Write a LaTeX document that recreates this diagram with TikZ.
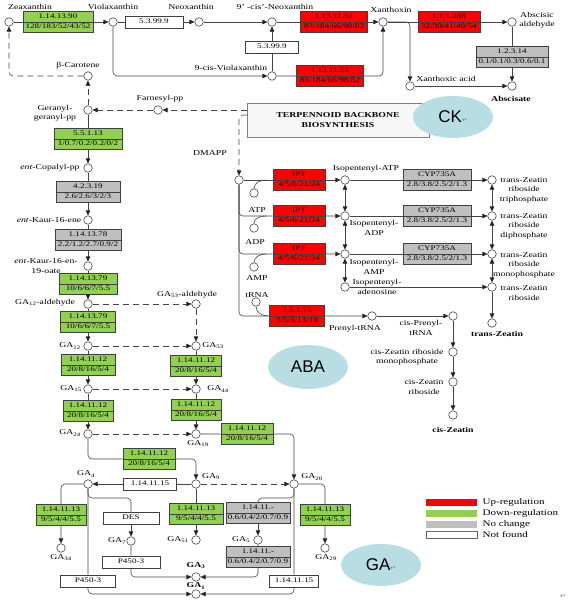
\documentclass[tikz,border=0pt]{standalone}
\usepackage{fontspec}
\setmainfont{Liberation Serif}[FakeStretch=1.3]
\newfontfamily\bubblefont{Liberation Sans}
\newfontfamily\markfont{DejaVu Sans}
\usetikzlibrary{arrows.meta}
\usetikzlibrary{shapes.geometric}
\usetikzlibrary{shapes.multipart}

\definecolor{upreg}{HTML}{FF0000}
\definecolor{downreg}{HTML}{92D050}
\definecolor{nochange}{HTML}{BFBFBF}
\definecolor{linegray}{HTML}{454545}
\definecolor{bubbleblue}{HTML}{B8DEE4}

\newcommand{\ec}[2]{\strut#1\nodepart{two}\strut#2}
\newcommand{\gasub}[1]{GA\textsubscript{#1}}
\newcommand{\retmark}{{\markfont\color{gray}\fontsize{7}{7}\selectfont ↵}}

\begin{document}
\begin{tikzpicture}[x=1pt,y=-1pt,>={Triangle[length=5pt,width=4.5pt,color=black!85]},line width=0.6pt,
    every node/.style={font=\fontsize{7.5}{9.5}\selectfont},
    cpd/.style={circle,draw=linegray,fill=white,inner sep=0pt,minimum size=8.5pt},
    lbl/.style={align=center,inner sep=0pt},
    enz/.style={rectangle split,rectangle split parts=2,draw=black!75,inner xsep=1pt,inner ysep=0.8pt,
                align=center,font=\fontsize{7}{8.4}\selectfont},
    up/.style={enz,fill=upreg}, down/.style={enz,fill=downreg}, same/.style={enz,fill=nochange},
    nf/.style={draw=black!75,fill=white,inner xsep=1pt,inner ysep=2pt,text height=5.9pt,text depth=2.5pt,
               font=\fontsize{7}{8.4}\selectfont},
    conn/.style={draw=linegray,rounded corners=4pt},
    dsh/.style={conn,dash pattern=on 6pt off 4pt},
    bubble/.style={ellipse,fill=bubbleblue,minimum width=80pt,minimum height=42pt,
                   font=\bubblefont\fontsize{17}{17}\selectfont}]
\useasboundingbox (0,0) rectangle (571,603);

% compounds
\foreach \n/\x/\y in {zea/9/22, vio/113/22, neo/199/22, cisneo/272/22, cvio/272/76, xan/383/22,
    absald/512/22, xacid/410/86, absc/512/86, bcar/88/76, ggpp/88/110, fpp/158/110,
    copp/88/168, kaur/88/220, kaurO/88/266, ga12ald/88/304, ga53ald/196/304, ga12/88/346,
    ga53/196/346, ga15/88/389, ga44/196/389, ga24/88/434, ga19/196/434, ga9/196/484,
    ga4/88/484, ga20/294/484, ga34/61/548, ga51/196/540, ga7/131/541, ga5/258/540,
    ga29/325/548, ga3/196/577, ga1/196/594,
    dmapp/239/180, atp/254/193, adp/254/228, amp/254/267, trna/256/302,
    ipatp/345/180, ipadp/345/216, ipamp/345/254, ipado/345/287,
    tzrtp/492/180, tzrdp/492/216, tzrmp/492/254, tzr/492/287, tz/492/323,
    ptrna/372/316, cptrna/453/316, czrmp/453/352, czr/453/382, cz/453/415}
  \node[cpd] (\n) at (\x,\y) {};

\foreach \n/\x/\y/\t in {zea/30/7/Zeaxanthin, vio/113/7/Violaxanthin, neo/191/7/Neoxanthin,
    cisneo/275/7/9' -cis'-Neoxanthin, cvio/231/68/9-cis-Violaxanthin, xan/391/10/Xanthoxin,
    absald/537/20/Abscisic\\aldehyde, xacid/446/79/Xanthoxic acid, absc/511/99/\textbf{Abscisate},
    bcar/78/66/β-Carotene, ggpp/55/113/Geranyl-\\geranyl-pp, fpp/160/99/Farnesyl-pp,
    dmapp/210/153/DMAPP, copp/50/168/\textit{ent}-Copalyl-pp, kaur/49/220/\textit{ent}-Kaur-16-ene,
    kaurO/46/266/\textit{ent}-Kaur-16-en-\\19-oate,
    ga12ald/45/303/\gasub{12}-aldehyde, ga53ald/187/295/\gasub{53}-aldehyde,
    ga12/70/346/\gasub{12}, ga53/213/346/\gasub{53}, ga15/71/389/\gasub{15}, ga44/218/389/\gasub{44},
    ga24/70/433/\gasub{24}, ga19/198/444/\gasub{19}, ga20/312/477/\gasub{20}, ga9/211/477/\gasub{9},
    ga4/86/474/\gasub{4}, ga34/61/558/\gasub{34}, ga51/178/540/\gasub{51}, ga7/117/541/\gasub{7},
    ga5/241/540/\gasub{5}, ga29/326/558/\gasub{29}, ga3/196/566/\textbf{\gasub{3}},
    ga1/196/586/\textbf{\gasub{1}},
    atp/257/210/ATP, adp/255/242/ADP, amp/257/278/AMP, trna/257/295/tRNA,
    ipatp/366/169/Isopentenyl-ATP, ipadp/374/228/Isopentenyl-\\ADP,
    ipamp/374/267/Isopentenyl-\\AMP, ipado/377/287/Isopentenyl-\\adenosine,
    tzrtp/524/190/trans-Zeatin\\riboside\\triphosphate, tzrdp/524/226/trans-Zeatin\\riboside\\diphosphate,
    tzrmp/524/265/trans-Zeatin\\riboside\\monophosphate, tzr/524/293/trans-Zeatin\\riboside,
    tz/497/334/\textbf{trans-Zeatin}, ptrna/355/329/Prenyl-tRNA, cptrna/421/328/cis-Prenyl-\\tRNA,
    czrmp/407/357/cis-Zeatin riboside\\monophosphate, czr/424/387/cis-Zeatin\\riboside,
    cz/453/430/\textbf{cis-Zeatin}}
  \node[lbl] (l\n) at (\x,\y) {\t};

% enzymes
\node[down,text width=68pt] (e1) at (58,22) {\ec{1.14.13.90}{128/183/52/43/52}};
\node[nf,minimum width=58pt] (e2) at (154,22) {5.3.99.9};
\node[nf,minimum width=53pt] (e3) at (272,47) {5.3.99.9};
\node[up,text width=65pt] (e4) at (334,22) {\ec{1.13.11.51}{83/184/66/98/82}};
\node[up,text width=65pt] (e5) at (330,76) {\ec{1.13.11.51}{83/184/66/98/82}};
\node[up,text width=60pt] (e6) at (449,22) {\ec{1.1.1.288}{32/30/41/40/54}};
\node[same,text width=70pt] (e7) at (512,57) {\ec{1.2.3.14}{0.1/0.1/0.3/0.6/0.1}};
\node[down,text width=66pt] (e8) at (88,139) {\ec{5.5.1.13}{1/0.7/0.2/0.2/0/2}};
\node[same,text width=62pt] (e9) at (88,192) {\ec{4.2.3.19}{2.6/2.6/3/2/3}};
\node[same,text width=64pt] (e10) at (88,240) {\ec{1.14.13.78}{2.2/1.2/2.7/0.9/2}};
\node[down,text width=56pt] (e11) at (88,284) {\ec{1.14.13.79}{10/6/6/7/5.5}};
\node[down,text width=53pt] (e12) at (88,322) {\ec{1.14.13.79}{10/6/6/7/5.5}};
\node[down,text width=52pt] (e13) at (88,365) {\ec{1.14.11.12}{20/8/16/5/4}};
\node[down,text width=49pt] (e14) at (196,366) {\ec{1.14.11.12}{20/8/16/5/4}};
\node[down,text width=48pt] (e15) at (88,411) {\ec{1.14.11.12}{20/8/16/5/4}};
\node[down,text width=48pt] (e16) at (196,410) {\ec{1.14.11.12}{20/8/16/5/4}};
\node[down,text width=50pt] (e17) at (247,434) {\ec{1.14.11.12}{20/8/16/5/4}};
\node[down,text width=50pt] (e18) at (149,459) {\ec{1.14.11.12}{20/8/16/5/4}};
\node[nf,minimum width=53pt] (e19) at (150,484) {1.14.11.15};
\node[down,text width=48pt] (e20) at (61,515) {\ec{1.14.11.13}{9/5/4/4/5.5}};
\node[down,text width=52pt] (e21) at (196,514) {\ec{1.14.11.13}{9/5/4/4/5.5}};
\node[nf,minimum width=56pt] (e22) at (131,518) {DES};
\node[nf,minimum width=58pt] (e23) at (131,562) {P450-3};
\node[nf,minimum width=55pt] (e24) at (88,581) {P450-3};
\node[same,text width=62pt] (e25) at (258,513) {\ec{1.14.11.-}{0.6/0.4/2/0.7/0.9}};
\node[same,text width=62pt] (e26) at (258,557) {\ec{1.14.11.-}{0.6/0.4/2/0.7/0.9}};
\node[nf,minimum width=49pt] (e27) at (294,581) {1.14.11.15};
\node[down,text width=48pt] (e28) at (325,515) {\ec{1.14.11.13}{9/5/4/4/5.5}};
\node[up,text width=50pt] (ipt1) at (299,180) {\ec{IPT}{4/5/6/21/24}};
\node[up,text width=50pt] (ipt2) at (299,216) {\ec{IPT}{4/5/6/21/24}};
\node[up,text width=50pt] (ipt3) at (299,254) {\ec{IPT}{4/5/6/21/24}};
\node[up,text width=53pt] (e32) at (297,316) {\ec{2.5.1.75}{3/5/3/13/19}};
\node[same,text width=66pt] (cyp1) at (437,180) {\ec{CYP735A}{2.8/3.8/2.5/2/1.3}};
\node[same,text width=66pt] (cyp2) at (437,216) {\ec{CYP735A}{2.8/3.8/2.5/2/1.3}};
\node[same,text width=66pt] (cyp3) at (437,254) {\ec{CYP735A}{2.8/3.8/2.5/2/1.3}};

\node[draw=gray,fill=gray!6,minimum width=182pt,minimum height=34pt,align=center,
      font=\bfseries\fontsize{7.5}{9.5}\selectfont] (terp) at (338,120) {TERPENNOID BACKBONE\\BIOSYNTHESIS};
\node[bubble] (ck) at (453,117) {CK\retmark};
\node[bubble,minimum height=44pt] (aba) at (308,367) {ABA};
\node[bubble] (gaoval) at (381,565) {GA\retmark};
\node (endmark) at (563,596) {\retmark};

% legend
\node[fill=upreg,minimum width=51pt,minimum height=7pt,inner sep=0pt] (kup) at (451.5,502) {};
\node[fill=downreg,minimum width=51pt,minimum height=7pt,inner sep=0pt] (kdown) at (451.5,513) {};
\node[fill=nochange,minimum width=51pt,minimum height=7pt,inner sep=0pt] (ksame) at (451.5,524) {};
\node[draw=black!60,line width=0.8pt,minimum width=51pt,minimum height=7pt,inner sep=0pt] (knf) at (451.5,535) {};
\foreach \n/\t in {kup/Up-regulation, kdown/Down-regulation, ksame/No change, knf/Not found}
  \node[anchor=west,inner sep=0pt,font=\fontsize{8.5}{9}\selectfont] (\n t) at ([xshift=5pt]\n.east) {\t};

\coordinate (tf) at (247,110);
\coordinate (td) at (247,115);
\coordinate (j1) at (266,180);
\coordinate (j2) at (266,216);
\coordinate (j3) at (266,254);
\coordinate (j4) at (268,316);

% carotenoid / ABA
\draw[conn,->] (zea) -- (e1) -- (vio);
\draw[conn,->] (vio) -- (e2) -- (neo);
\draw[conn,->] (neo) -- (cisneo);
\draw[conn,->] (vio) |- (cvio);
\draw[conn,->] (cvio) -- (e3) -- (cisneo);
\draw[conn,->] (cisneo) -- (e4) -- (xan);
\draw[conn,->] (cvio) -- (e5) -- (e5 -| xan) -- (xan);
\draw[conn,->] (xan) -- (e6) -- (absald);
\draw[conn,->] (xan) -| (xacid);
\draw[conn,->] (xacid) -- (absc);
\draw[conn,->] (absald) -- (e7) -- (absc);
\draw[dsh,->] (bcar) -| (zea);
\draw[dsh,->] (ggpp) -- (bcar);
\draw[dsh,->] (fpp) -- (ggpp);
\draw[dsh,->] (tf) -- (fpp);
\draw[dsh,->] (td) -| (dmapp);

% GA
\draw[conn,->] (ggpp) -- (e8) -- (copp);
\draw[conn,->] (copp) -- (e9) -- (kaur);
\draw[conn,->] (kaur) -- (e10) -- (kaurO);
\draw[conn,->] (kaurO) -- (e11) -- (ga12ald);
\draw[conn,->] (ga12ald) -- (e12) -- (ga12);
\draw[conn,->] (ga12) -- (e13) -- (ga15);
\draw[conn,->] (ga15) -- (e15) -- (ga24);
\draw[conn,->] (ga53) -- (e14) -- (ga44);
\draw[conn,->] (ga44) -- (e16) -- (ga19);
\draw[dsh,->] (ga12ald) -- (ga53ald);
\draw[dsh,->] (ga53ald) -- (ga53);
\draw[dsh,->] (ga12) -- (ga53);
\draw[dsh,->] (ga15) -- (ga44);
\draw[dsh,->] (ga24) -- (ga19);
\draw[conn,->] (ga19) -- (e17) -- (e17 -| ga20) -- (ga20);
\draw[conn,->] (ga24) |- (e18) -- (e18 -| ga9) -- (ga9);
\draw[conn,->] (ga9) -- (e19) -- (ga4);
\draw[dsh,->] (ga9) -- (ga20);
\draw[conn,->] (ga9) -- (e21) -- (ga51);
\draw[conn,->] (ga4) -| (e20) -- (ga34);
\draw[conn] (ga4) -- ++(0,14) -| (e22);
\draw[conn,->] (e22) -- (ga7);
\draw[conn,->] (ga7) -- (e23) |- (ga3);
\draw[conn,->] (ga4) -- (e24) |- (ga1);
\draw[conn,->] (ga20) -| (e28) -- (ga29);
\draw[conn,->] (ga20) -- (e27) |- (ga1);
\draw[conn] (ga20) -- ++(0,14) -| (e25);
\draw[conn,->] (e25) -- (ga5);
\draw[conn,->] (ga5) -- (e26) |- (ga3);

% CK
\draw[conn,->] (dmapp) -- (ipt1) -- (ipatp);
\draw[conn,->] (dmapp) |- (ipt2) -- (ipadp);
\draw[conn,->] (dmapp) |- (ipt3) -- (ipamp);
\draw[conn,->] (dmapp) |- (e32) -- (ptrna);
\draw[conn] (atp) to[out=90,in=180] (j1);
\draw[conn] (adp) to[out=90,in=180] (j2);
\draw[conn] (amp) to[out=90,in=180] (j3);
\draw[conn] (trna) to[out=-90,in=180] (j4);
\draw[conn,<->] (ipatp) -- (ipadp);
\draw[conn,<->] (ipadp) -- (ipamp);
\draw[conn,<->] (ipamp) -- (ipado);
\draw[conn,->] (ipatp) -- (cyp1) -- (tzrtp);
\draw[conn,->] (ipadp) -- (cyp2) -- (tzrdp);
\draw[conn,->] (ipamp) -- (cyp3) -- (tzrmp);
\draw[conn,->] (ipado) -- (tzr);
\draw[conn,<->] (tzrtp) -- (tzrdp);
\draw[conn,<->] (tzrdp) -- (tzrmp);
\draw[conn,<->] (tzrmp) -- (tzr);
\draw[conn,->] (tzr) -- (tz);
\draw[conn,->] (ptrna) -- (cptrna);
\draw[conn,->] (cptrna) -- (czrmp);
\draw[conn,->] (czrmp) -- (czr);
\draw[conn,->] (czr) -- (cz);
\end{tikzpicture}
\end{document}
